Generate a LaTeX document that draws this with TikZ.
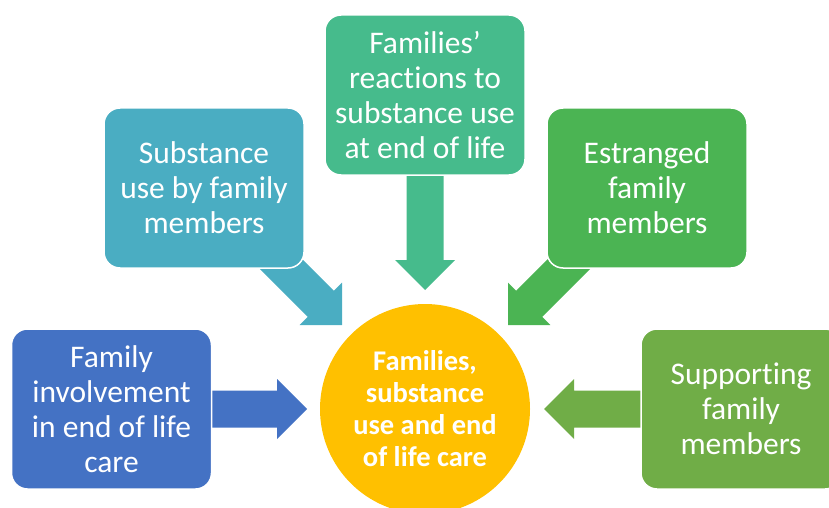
\documentclass[tikz,border=0pt]{standalone}
\usepackage{fontspec}
\setmainfont{Carlito}[Ligatures={NoCommon}]
\begin{document}
\begin{tikzpicture}[x=1pt,y=-1pt,
  boxstyle/.style={rounded corners=16pt, draw=white, line width=1.5pt, minimum width=200pt, minimum height=160pt, text=white, align=center, font=\fontsize{31.5}{35}\selectfont, inner sep=0pt},
  arrowstyle/.style={line width=0pt, draw=none}]
\useasboundingbox (0,0) rectangle (829,508);
\clip (0,0) rectangle (829,508);
\definecolor{cblue}{HTML}{4472C4}
\definecolor{cteal}{HTML}{4AADC2}
\definecolor{cmint}{HTML}{46BB8C}
\definecolor{cgreen}{HTML}{4BB453}
\definecolor{clime}{HTML}{70AD47}
\definecolor{cgold}{HTML}{FFC000}
% block arrows (drawn first, behind boxes)
\fill[arrowstyle, cblue] (150,390.5) -- (277,390.5) -- (277,379) -- (307,409) -- (277,439) -- (277,427.5) -- (150,427.5) -- cycle;
\fill[arrowstyle, clime] (700,390.5) -- (574,390.5) -- (574,379) -- (544,409) -- (574,439) -- (574,427.5) -- (700,427.5) -- cycle;
\fill[arrowstyle, cmint] (406.5,140) -- (406.5,260) -- (395,260) -- (425,290) -- (455,260) -- (443.5,260) -- (443.5,140) -- cycle;
\fill[arrowstyle, cteal] (277.3,234.1) -- (333.9,290.7) -- (342,282.6) -- (342,325) -- (299.6,325) -- (307.7,316.9) -- (251.1,260.3) -- cycle;
\fill[arrowstyle, cgreen] (572.7,234.1) -- (516.1,290.7) -- (508,282.6) -- (508,325) -- (550.4,325) -- (542.3,316.9) -- (598.9,260.3) -- cycle;
% boxes
\node[boxstyle, fill=cblue] (left) at (111.5,409) {Family\\involvement\\in end of life\\care};
\node[boxstyle, fill=cteal] (topleft) at (204,188) {Substance\\use by family\\members};
\node[boxstyle, fill=cmint] (top) at (425,95) {Families’\\reactions to\\substance use\\at end of life};
\node[boxstyle, fill=cgreen] (topright) at (647,188) {Estranged\\family\\members};
\node[boxstyle, fill=clime] (right) at (741,409) {Supporting\\family\\members};
% centre
\node[circle, fill=cgold, minimum size=210pt, inner sep=0pt, text=white, align=center, font=\bfseries\fontsize{28.5}{32}\selectfont] (centre) at (425,409) {Families,\\substance\\use and end\\of life care};
\end{tikzpicture}
\end{document}
